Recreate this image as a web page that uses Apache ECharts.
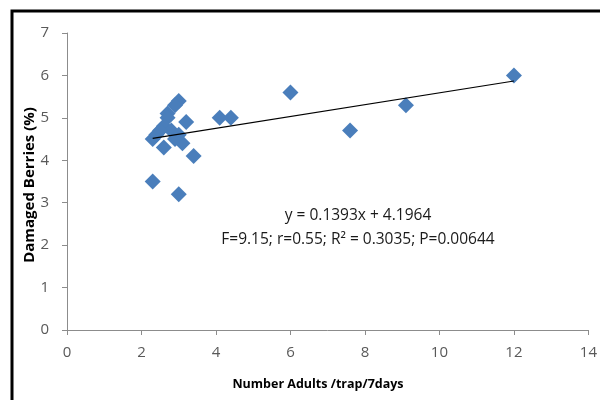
<!DOCTYPE html>
<html><head><meta charset="utf-8">
<script src="https://cdn.jsdelivr.net/npm/echarts@6/dist/echarts.min.js"></script>
<style>html,body{margin:0;padding:0;background:#fff}#c{width:600px;height:400px}</style>
</head><body><div id="c"></div>
<script>
// Data
const adults = [12.0, 9.1, 7.6, 6.0, 4.4, 4.1, 3.4, 3.2, 3.1, 3.0, 2.9, 3.0, 2.3, 2.7, 2.7, 2.6, 2.3, 2.4, 2.6, 2.8, 2.9, 2.5, 3.0];
const damaged = [6.0, 5.3, 4.7, 5.6, 5.0, 5.0, 4.1, 4.9, 4.4, 5.4, 5.3, 3.2, 3.5, 5.1, 5.0, 4.3, 4.5, 4.6, 4.8, 4.7, 4.5, 4.7, 4.6];
const slope = 0.1393;
const intercept = 4.1964;
const xTicks = [0, 14, 2];
const yTicks = [0, 7, 1];
const eqLine1 = 'y = 0.1393x + 4.1964';
const eqLine2 = 'F=9.15; r=0.55; R\u00B2 = 0.3035; P=0.00644';
const xTitle = 'Number Adults /trap/7days';
const yTitle = 'Damaged Berries (%)';

const pts = adults.map((x, i) => [x, damaged[i]]);
const xMin = Math.min(...adults), xMax = Math.max(...adults);
const trend = [[xMin, slope * xMin + intercept], [xMax, slope * xMax + intercept]];

const font = "'Open Sans', 'Liberation Sans', sans-serif";
const chart = echarts.init(document.getElementById('c'), null, {renderer: 'canvas'});
chart.setOption({
  animation: false,
  grid: {left: 67, right: 9, top: 33, bottom: 70},
  xAxis: {
    type: 'value', min: xTicks[0], max: xTicks[1], interval: xTicks[2],
    axisLine: {show: true, lineStyle: {color: '#8c8c8c', width: 1}},
    axisTick: {show: true, length: 5, lineStyle: {color: '#8c8c8c'}},
    splitLine: {show: false},
    axisLabel: {color: '#595959', fontSize: 15, fontFamily: font, margin: 15}
  },
  yAxis: {
    type: 'value', min: yTicks[0], max: yTicks[1], interval: yTicks[2],
    axisLine: {show: true, lineStyle: {color: '#8c8c8c', width: 1}},
    axisTick: {show: true, length: 5, lineStyle: {color: '#8c8c8c'}},
    splitLine: {show: false},
    axisLabel: {color: '#595959', fontSize: 15, fontFamily: font, margin: 18}
  },
  series: [
    {
      type: 'scatter', data: pts, symbol: 'diamond', symbolSize: [16, 16],
      itemStyle: {color: '#4A7EBB', opacity: 1}, z: 2
    },
    {
      type: 'line', data: trend, symbol: 'none', z: 3,
      lineStyle: {color: '#000', width: 1.2}
    }
  ],
  graphic: [
    {type: 'rect', shape: {x: 12, y: 11, width: 700, height: 500}, style: {fill: 'none', stroke: '#000', lineWidth: 3}, z: 100},
    {type: 'text', x: 358, y: 216, style: {text: eqLine1, font: '15.5px ' + font, fill: '#1a1a1a', textAlign: 'center', textVerticalAlign: 'middle'}},
    {type: 'text', x: 358, y: 240, style: {text: eqLine2, font: '15.5px ' + font, fill: '#1a1a1a', textAlign: 'center', textVerticalAlign: 'middle'}},
    {type: 'text', x: 318, y: 384, style: {text: xTitle, font: 'bold 12.5px ' + font, fill: '#000', textAlign: 'center', textVerticalAlign: 'middle'}},
    {type: 'text', x: 30, y: 185, rotation: Math.PI / 2, style: {text: yTitle, font: 'bold 15px ' + font, fill: '#000', textAlign: 'center', textVerticalAlign: 'middle'}}
  ]
});
</script></body></html>
